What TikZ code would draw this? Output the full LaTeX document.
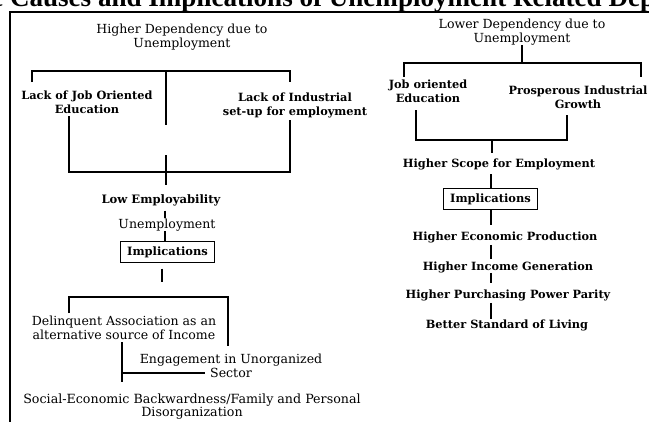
\documentclass[tikz,border=0pt]{standalone}
\usepackage{fontspec}
\setmainfont{DejaVu Serif}
\newfontfamily\titlefont{Liberation Serif}
\usetikzlibrary{positioning}
\tikzset{
    txt/.style={inner sep=0pt,align=center,font=\fontsize{9.4}{10.5}\selectfont},
    btxt/.style={inner sep=0pt,align=center,font=\fontsize{8.5}{10.5}\selectfont\bfseries},
    block/.style={draw,line width=0.8pt,minimum width=70pt,minimum height=16pt,inner sep=0pt,font=\fontsize{8.6}{10}\selectfont\bfseries},
    link/.style={line width=1.3pt},
    frame/.style={line width=1.4pt}
}

\begin{document}
\begin{tikzpicture}[x=0.75pt,y=-0.75pt]
  \useasboundingbox (0,0) rectangle (649,421);
  \clip (0,0) rectangle (649,421);
  % title and frame
  \node[anchor=base west,inner sep=0pt,font=\titlefont\fontsize{20.3}{22}\selectfont\bfseries] (T) at (-9,7) {e Causes and Implications of Unemployment Related Dep};
  \draw[frame] (10,430) -- (10,12) -- (660,12);

  % left side
  \node[txt,anchor=base] (L1) at (182,47) {Higher Dependency due to\\Unemployment};
  \node[btxt,anchor=base] (L2) at (87,113) {Lack of Job Oriented\\Education};
  \node[btxt,anchor=base] (L3) at (295,115) {Lack of Industrial\\set-up for employment};
  \node[btxt,anchor=base,font=\fontsize{8.7}{10.5}\selectfont\bfseries] (L4) at (161,203) {Low Employability};
  \node[txt,anchor=base] (L5) at (167,228) {Unemployment};
  \node[block] (L6) at (167.5,252) {Implications};
  \node[txt,anchor=base] (L7) at (124,339) {Delinquent Association as an\\alternative source of Income};
  \node[txt,anchor=base] (L8) at (231,377) {Engagement in Unorganized\\Sector};
  \node[txt,anchor=base,font=\fontsize{9.5}{9.4}\selectfont] (L9) at (192,416) {Social-Economic Backwardness/Family and Personal\\Disorganization};

  \coordinate (Lx) at (165,0);
  \coordinate (b1) at (32,82);
  \coordinate (b2) at (290,82);
  \coordinate (b3) at (166,71);
  \coordinate (b4) at (166,125);
  \coordinate (c1) at (69,116);
  \coordinate (c2) at (290,120);
  \coordinate (c3) at (166,172);
  \coordinate (c4) at (166,155);
  \coordinate (c5) at (166,185);
  \coordinate (d0) at (162,282);
  \coordinate (d1) at (69,313);
  \coordinate (d2) at (228,346);
  \coordinate (d3) at (69,297);
  \coordinate (e1) at (122,342);
  \coordinate (e2) at (122,382);
  \coordinate (e3) at (122,373);
  \coordinate (e4) at (205,373);

  \draw[link] (b1) |- (b3) -| (b2);
  \draw[link] (b3) -- (b4);
  \draw[link] (c1) |- (c3) -| (c2);
  \draw[link] (c4) -- (c5);
  \draw[link,shorten <=3.5pt] (L4.south -| Lx) -- (L5.north -| Lx);
  \draw[link] (L5.south -| Lx) -- (L6.north -| Lx);
  \draw[link,shorten <=4pt] (L6.south -| d0) -- (d0);
  \draw[link] (d1) -- (d3) -| (d2);
  \draw[link] (e1) -- (e2);
  \draw[link] (e3) -- (e4);

  % right side
  \node[txt,anchor=base] (R1) at (522,42) {Lower Dependency due to\\Unemployment};
  \node[btxt,anchor=base] (R2) at (428,102) {Job oriented\\Education};
  \node[btxt,anchor=base] (R3) at (578,108) {Prosperous Industrial\\Growth};
  \node[btxt,anchor=base] (R4) at (499,167) {Higher Scope for Employment};
  \node[block] (R5) at (490.5,199) {Implications};
  \node[btxt,anchor=base] (R6) at (505,240) {Higher Economic Production};
  \node[btxt,anchor=base] (R7) at (508,270) {Higher Income Generation};
  \node[btxt,anchor=base] (R8) at (508,298) {Higher Purchasing Power Parity};
  \node[btxt,anchor=base] (R9) at (507,328) {Better Standard of Living};

  \coordinate (Rx) at (491,0);
  \coordinate (f0) at (522,63);
  \coordinate (f1) at (404,77);
  \coordinate (f2) at (641,77);
  \coordinate (g0) at (492,140);
  \coordinate (g1) at (416,110);
  \coordinate (g2) at (567,115);
  \coordinate (g3) at (492,153);

  \draw[link] (R1.south -| f0) -- (f0);
  \draw[link] (f1) |- (f0) -| (f2);
  \draw[link] (g1) |- (g0) -| (g2);
  \draw[link] (g0) -- (g3);
  \draw[link,shorten <=3.5pt] (R4.south -| Rx) -- (R5.north -| Rx);
  \draw[link,shorten >=4.5pt] (R5.south -| Rx) -- (R6.north -| Rx);
  \draw[link,shorten <=1.5pt,shorten >=1.5pt] (R6.south -| Rx) -- (R7.north -| Rx);
  \draw[link,shorten >=4.5pt] (R7.south -| Rx) -- (R8.north -| Rx);
  \draw[link,shorten <=1.5pt] (R8.south -| Rx) -- (R9.north -| Rx);
\end{tikzpicture}
\end{document}
